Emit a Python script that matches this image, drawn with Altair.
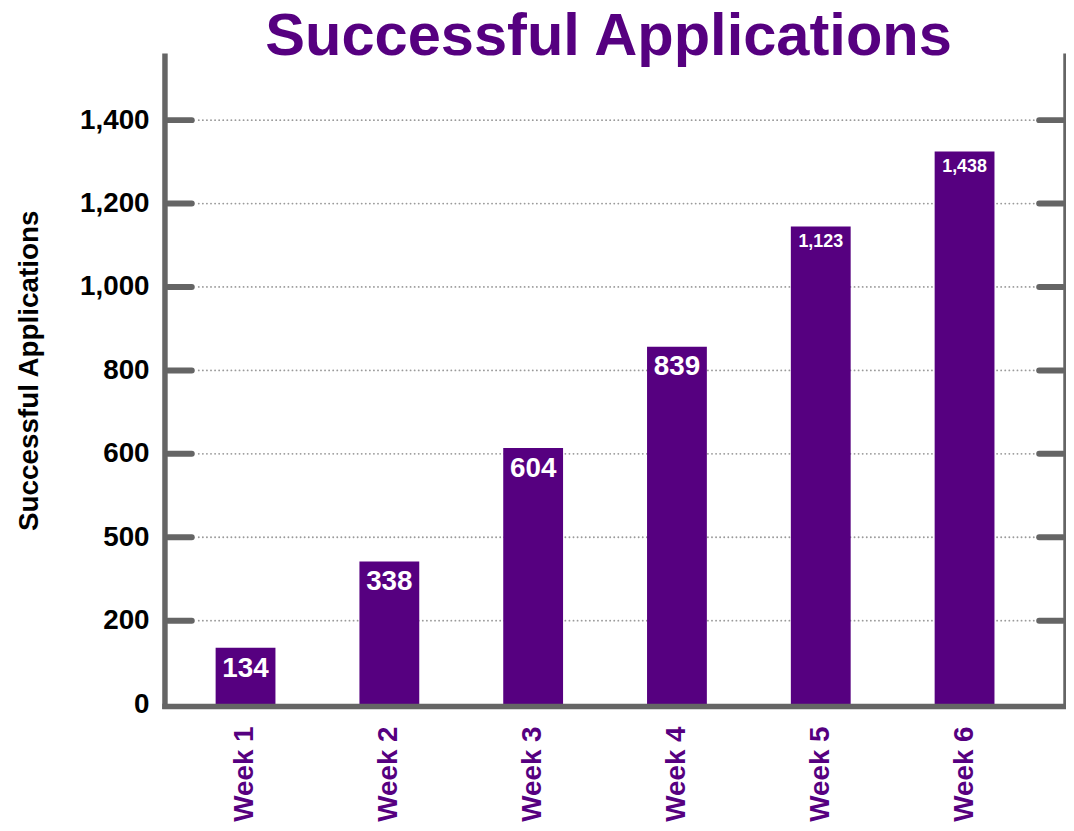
import altair as alt
import pandas as pd

# ---- data ----
weeks = ["Week 1", "Week 2", "Week 3", "Week 4", "Week 5", "Week 6"]
bar_values = [135, 342, 614, 857, 1145, 1325]          # bar heights as drawn
bar_labels = ["134", "338", "604", "839", "1,123", "1,438"]  # labels printed on bars
tick_values = [0, 200, 400, 600, 800, 1000, 1200, 1400]
tick_labels = ["0", "200", "500", "600", "800", "1,000", "1,200", "1,400"]

PURPLE = "#560080"
GRAY = "#656565"
GRID = "#9a9a9a"
FONT = "Liberation Sans"
W = 907
H = 655

df = pd.DataFrame({"week": weeks, "value": bar_values, "label": bar_labels})
ticks_df = pd.DataFrame({"tick": tick_values[1:]})
one = pd.DataFrame({"k": [0]})

label_expr = "''"
for v, l in reversed(list(zip(tick_values, tick_labels))):
    label_expr = f"datum.value == {v} ? '{l}' : ({label_expr})"

yscale = alt.Scale(domain=[0, 1560], nice=False, zero=True)
xscale = alt.Scale(domain=weeks, range=[51, 835], paddingInner=0.584, paddingOuter=0)

yaxis = alt.Axis(
    title="Successful Applications", values=tick_values, labelExpr=label_expr,
    labelFontSize=28, labelFont=FONT, labelFontWeight="bold", labelColor="black",
    labelPadding=16, domain=False, ticks=False, grid=False,
    titleFontSize=28, titleFont=FONT, titleFontWeight="bold", titleColor="black",
    titleAngle=270, titleX=-128, titleY=319, titleBaseline="alphabetic",
    titleAlign="center",
)
xaxis = alt.Axis(
    title=None, labelAngle=270, labelFontSize=28, labelFont=FONT,
    labelFontWeight="bold", labelColor=PURPLE, labelPadding=22,
    domain=False, ticks=False,
)

grid = alt.Chart(ticks_df).mark_rule(
    color=GRID, strokeWidth=1.8, strokeDash=[0.1, 4], strokeCap="round"
).encode(
    y=alt.Y("tick:Q", scale=yscale, axis=yaxis),
    x=alt.value(34), x2=alt.value(W - 32),
)

left_ticks = alt.Chart(ticks_df).mark_rule(
    color=GRAY, strokeWidth=6, strokeCap="round"
).encode(
    y=alt.Y("tick:Q", scale=yscale, axis=yaxis),
    x=alt.value(3), x2=alt.value(27),
)

right_ticks = alt.Chart(ticks_df).mark_rule(
    color=GRAY, strokeWidth=6, strokeCap="round"
).encode(
    y=alt.Y("tick:Q", scale=yscale, axis=yaxis),
    x=alt.value(W - 27), x2=alt.value(W - 3),
)

bars = alt.Chart(df).mark_bar(color=PURPLE).encode(
    x=alt.X("week:N", scale=xscale, sort=weeks, axis=xaxis),
    y=alt.Y("value:Q", scale=yscale, axis=yaxis),
)

labels = alt.Chart(df).mark_text(
    baseline="top", dy=7, color="white", font=FONT, fontWeight="bold"
).encode(
    x=alt.X("week:N", scale=xscale, sort=weeks, axis=xaxis),
    y=alt.Y("value:Q", scale=yscale, axis=yaxis),
    text="label:N",
    size=alt.condition("length(datum.label) > 3", alt.value(18), alt.value(28)),
)

left_line = alt.Chart(one).mark_rule(color=GRAY, strokeWidth=5.5).encode(
    x=alt.value(0), y=alt.value(0), y2=alt.value(H + 5)
)
right_line = alt.Chart(one).mark_rule(color=GRAY, strokeWidth=5.5).encode(
    x=alt.value(W), y=alt.value(0), y2=alt.value(H + 5)
)
bottom_line = alt.Chart(one).mark_rule(color=GRAY, strokeWidth=5.5).encode(
    y=alt.value(H + 2.5), x=alt.value(-2.75), x2=alt.value(W)
)

chart = alt.layer(
    grid, left_ticks, right_ticks, bars, labels, left_line, right_line, bottom_line
).properties(
    width=W, height=H,
    autosize=alt.AutoSizeParams(type="none"),
    padding={"left": 158, "top": 43, "right": 0, "bottom": 117},
    background="white",
    title=alt.TitleParams(
        "Successful Applications", fontSize=60, font=FONT, fontWeight="bold",
        color=PURPLE, anchor="middle", baseline="alphabetic", offset=0, dy=64, dx=-7,
        frame="group",
    ),
).configure_view(strokeWidth=0)

chart.save("out.html", embed_options={"renderer": "svg", "actions": False})
